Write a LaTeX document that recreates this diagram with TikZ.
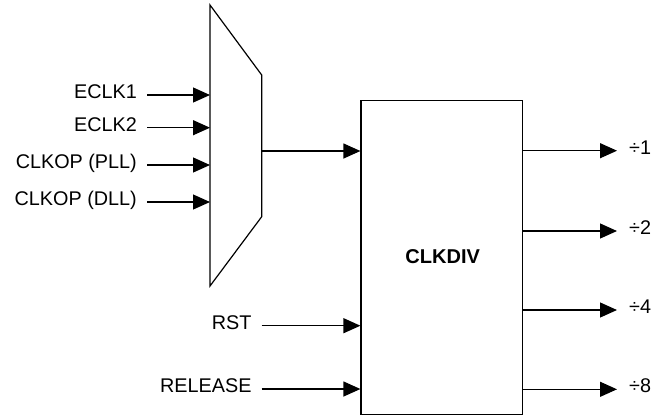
\documentclass[tikz,border=0pt]{standalone}
\usepackage{fontspec}
\setmainfont{Liberation Sans}
\usetikzlibrary{arrows.meta}
\begin{document}
\begin{tikzpicture}[x=1pt,y=-1pt,
  wire/.style={line width=1.2pt,-{Triangle[length=17pt,width=15pt]}},
  plain/.style={line width=1.2pt},
  inlbl/.style={anchor=east,inner xsep=10pt,inner ysep=0pt,font=\fontsize{19.8}{22}\selectfont,text height=0.716em,text depth=0pt},
  outlbl/.style={anchor=west,inner xsep=12pt,inner ysep=0pt,font=\fontsize{19.8}{22}\selectfont,text height=0.716em,text depth=0pt},
  blockbox/.style={draw,line width=1.2pt,minimum width=161.7pt,minimum height=313.8pt,inner sep=0pt}]
\useasboundingbox (0,0) rectangle (652,416);
% multiplexer
\draw[plain,line join=miter] (210,5) -- (261.7,75) -- (261.7,216.7) -- (210,286) -- cycle;
\coordinate (m1) at (210,95);
\coordinate (m2) at (210,127.7);
\coordinate (m3) at (210,165);
\coordinate (m4) at (210,202);
\coordinate (mo) at (261.7,151);
% inputs
\node[inlbl] (e1) at (147,95) {ECLK1};
\node[inlbl] (e2) at (147,127.7) {ECLK2};
\node[inlbl] (e3) at (147,165) {CLKOP (PLL)};
\node[inlbl] (e4) at (147,202) {CLKOP (DLL)};
\draw[wire] (e1.east) -- (m1);
\draw[wire] (e2.east) -- (m2);
\draw[wire] (e3.east) -- (m3);
\draw[wire] (e4.east) -- (m4);
% divider block
\node[blockbox] (div) at (441.85,257.6) {};
\node[font=\bfseries\fontsize{20}{24}\selectfont] (divlbl) at (442.7,257) {CLKDIV};
\draw[wire] (mo) -- (mo -| div.west);
\node[inlbl] (rst) at (261.7,325.7) {RST};
\node[inlbl] (rel) at (261.7,389) {RELEASE};
\draw[wire] (rst.east) -- (rst.east -| div.west);
\draw[wire] (rel.east) -- (rel.east -| div.west);
% outputs
\node[outlbl] (o1) at (617,150.7) {÷1};
\node[outlbl] (o2) at (617,231) {÷2};
\node[outlbl] (o4) at (617,310) {÷4};
\node[outlbl] (o8) at (617,389.3) {÷8};
\draw[wire] (o1.west -| div.east) -- (o1.west);
\draw[wire] (o2.west -| div.east) -- (o2.west);
\draw[wire] (o4.west -| div.east) -- (o4.west);
\draw[wire] (o8.west -| div.east) -- (o8.west);
\end{tikzpicture}
\end{document}
